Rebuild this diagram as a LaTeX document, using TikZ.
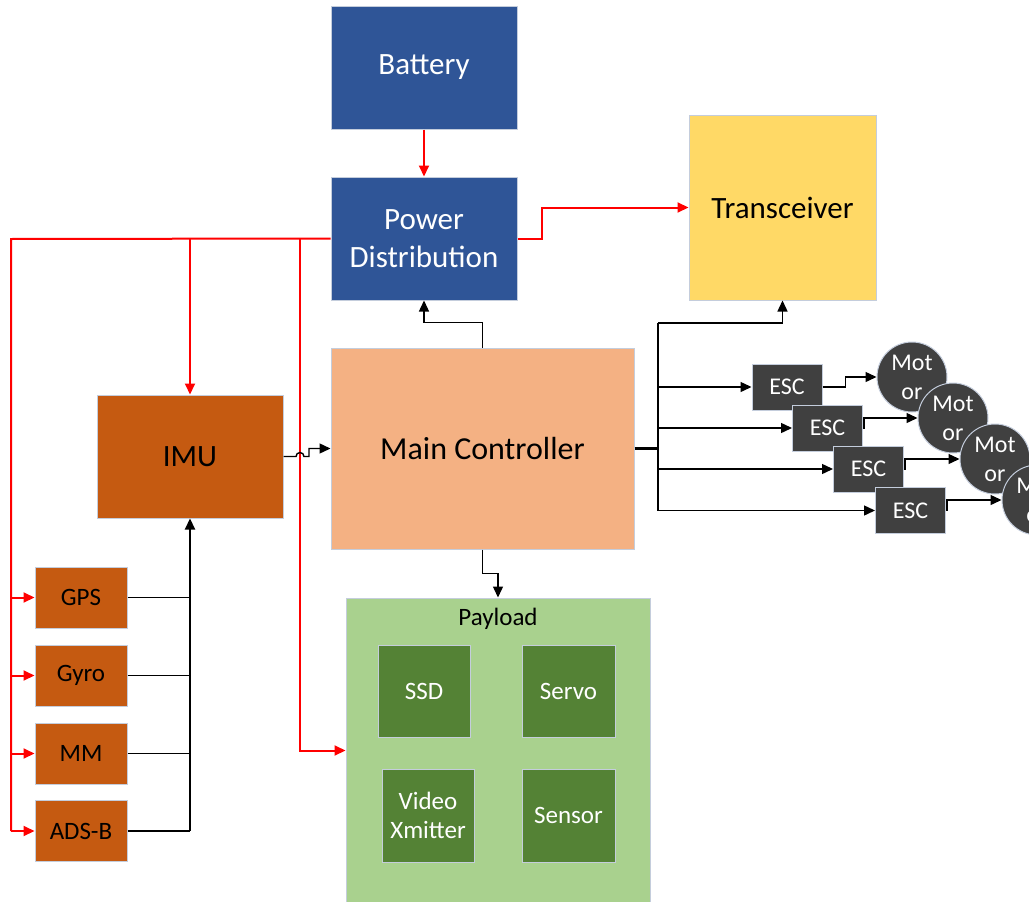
\documentclass[tikz,border=0pt]{standalone}
\usepackage{fontspec}
\setmainfont{Carlito}
\usetikzlibrary{arrows.meta,calc}

\definecolor{pwrblue}{HTML}{2F5597}
\definecolor{trxyellow}{HTML}{FFD966}
\definecolor{mcpeach}{HTML}{F4B183}
\definecolor{imuorange}{HTML}{C55A11}
\definecolor{paygreen}{HTML}{A9D18E}
\definecolor{devgreen}{HTML}{548235}
\definecolor{escgray}{HTML}{404040}
\definecolor{edgegray}{RGB}{196,205,220}
\definecolor{pwrred}{HTML}{FF0000}

\tikzset{
  blk/.style={draw=edgegray, line width=1pt, inner sep=0pt, align=center},
  bigtxt/.style={font=\fontsize{31}{37}\selectfont},
  midtxt/.style={font=\fontsize{25}{30}\selectfont},
  smltxt/.style={font=\fontsize{24}{28}\selectfont},
  tip/.style={-{Triangle[length=11pt,width=10pt]}},
  pw/.style={draw=pwrred, line width=2pt},
  pwa/.style={pw, tip},
  sig/.style={draw=black, line width=1.4pt},
  siga/.style={sig, tip},
  bus/.style={draw=black, line width=2.2pt},
}

\begin{document}
\begin{tikzpicture}[x=1pt,y=-1pt]
\useasboundingbox (0,0) rectangle (1029,902);

% power section
\node[blk, bigtxt, fill=pwrblue, text=white, minimum width=186pt, minimum height=123pt] (bat) at (424,67.5) {Battery};
\node[blk, bigtxt, fill=pwrblue, text=white, minimum width=186pt, minimum height=123pt] (pd) at (424,238.5) {Power\\[1pt]Distribution};

% radio link
\node[blk, bigtxt, fill=trxyellow, minimum width=187pt, minimum height=185pt] (trx) at (782.5,207.5) {Transceiver};

% flight computer
\node[blk, font=\fontsize{32}{38}\selectfont, fill=mcpeach, minimum width=303pt, minimum height=201pt] (mc) at (482.5,448.5) {Main Controller};
\node[blk, bigtxt, fill=imuorange, minimum width=186pt, minimum height=123pt] (imu) at (190,456.5) {IMU};

% sensors feeding the IMU
\node[blk, midtxt, fill=imuorange, minimum width=92pt, minimum height=61pt] (gps) at (81,597.5) {GPS};
\node[blk, midtxt, fill=imuorange, minimum width=92pt, minimum height=61pt] (gyro) at (81,675.5) {Gyro};
\node[blk, midtxt, fill=imuorange, minimum width=92pt, minimum height=61pt] (mm) at (81,753.5) {MM};
\node[blk, midtxt, fill=imuorange, minimum width=92pt, minimum height=61pt] (adsb) at (81,831) {ADS-B};

% payload bay
\node[blk, fill=paygreen, minimum width=304pt, minimum height=305pt] (pay) at (498,750.5) {};
\node[midtxt, inner sep=0pt] (paylbl) at (498,619) {Payload};
\node[blk, midtxt, fill=devgreen, text=white, minimum width=92pt, minimum height=92pt] (ssd) at (424,691) {SSD};
\node[blk, midtxt, fill=devgreen, text=white, minimum width=93pt, minimum height=92pt] (servo) at (568.5,691) {Servo};
\node[blk, midtxt, fill=devgreen, text=white, minimum width=92pt, minimum height=93pt] (vid) at (428,815.5) {Video\\[-1pt]Xmitter};
\node[blk, midtxt, fill=devgreen, text=white, minimum width=93pt, minimum height=93pt] (sens) at (568.5,815.5) {Sensor};

% speed controllers and motors
\foreach \i/\ex/\ey/\mx/\my in {1/787/387/912/377, 2/827.5/428/953/418, 3/868.5/469/995/459, 4/910.5/510.5/1037/500}{
  \node[blk, smltxt, fill=escgray, text=white, minimum width=70pt, minimum height=46pt] (esc\i) at (\ex,\ey) {ESC};
  \node[blk, circle, smltxt, fill=escgray, text=white, minimum size=70pt] (mot\i) at (\mx,\my) {Mot\\[1pt]or};
}

% power distribution wiring
\coordinate (lbus) at (11,239);
\coordinate (pdrop) at (300,239);
\draw[pwa] (bat.south) -- (pd.north);
\draw[pw] (pd.west) -- (lbus) -- (lbus |- adsb.west);
\foreach \s in {gps,gyro,mm,adsb}{
  \draw[pwa] (lbus |- \s.west) -- (\s.west);
}
\draw[pwa] (imu.north |- lbus) -- (imu.north);
\draw[pwa] (pdrop) |- (pay.west);
\draw[pwa] (pd.east) -- ++(24,0) |- (trx.west);

% sensor bus into the IMU
\coordinate (sbus) at (190,831);
\foreach \s in {gps,gyro,mm,adsb}{
  \draw[sig] (\s.east) -- (sbus |- \s.east);
}
\draw[bus, tip] (sbus) -- (imu.south);

% IMU to main controller, hopping over the power line
\draw[siga] (imu.east) -- (296,456.5) arc (180:360:4) -- (309,456.5) -- (309,448.5) -- (mc.west);

% main controller outputs
\draw[siga] (mc.north) -- ++(0,-25) -| (pd.south);
\draw[siga] (mc.south) -- ++(0,24) -| (pay.north);
\coordinate (rbus) at (658,448.5);
\draw[bus] (mc.east) -- (rbus);
\draw[sig] (658,323) -- (658,510.5);
\draw[siga] (658,323) -| (trx.south);
\foreach \i in {1,2,3,4}{
  \draw[siga] (rbus |- esc\i.west) -- (esc\i.west);
}
\draw[siga] (esc1.east) -- ++(23,0) |- (mot1.west);
\foreach \i in {2,3,4}{
  \draw[siga] (esc\i.east) -- ++(1,0) |- (mot\i.west);
}
\end{tikzpicture}
\end{document}
